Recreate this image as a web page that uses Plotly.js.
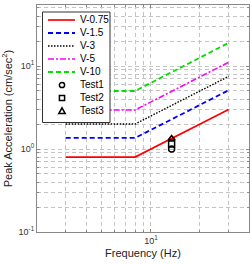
<!DOCTYPE html>
<html>
<head>
<meta charset="utf-8">
<script src="https://cdn.plot.ly/plotly-3.0.1.min.js"></script>
<style>html,body{margin:0;padding:0;background:#fff;}#chart{width:250px;height:264px;}</style>
</head>
<body>
<div id="chart"></div>
<script>
// ---- data ----
var freq = [3, 8, 30];
var v075 = [0.80, 0.80, 3.0];
var v15 = [1.36, 1.36, 5.1];
var v3 = [2.0, 2.0, 7.5];
var v5 = [2.95, 2.95, 11.1];
var v10 = [5.0, 5.0, 19.0];
var testFreq = [13.4];
var test1 = [1.0];
var test2 = [1.15];
var test3 = [1.34];
var seriesNames = ['V-0.75', 'V-1.5', 'V-3', 'V-5', 'V-10'];
var testNames = ['Test1', 'Test2', 'Test3'];
var xTickVals = [10];
var xTickText = ['10<sup>1</sup>'];
var xMinorVals = [2,3,4,5,6,7,8,9,20,30,40];
var yTickVals = [0.1, 1, 10];
var yTickText = ['10<sup>-1</sup>', '10<sup>0</sup>', '10<sup>1</sup>'];
var yMinorVals = [0.2,0.3,0.4,0.5,0.6,0.7,0.8,0.9,2,3,4,5,6,7,8,9,20,30,40,50];

// ---- styles ----
var lineColors = ['#ff0000', '#0000ff', '#000000', '#ff00ff', '#00e000'];
var lineDashes = ['solid', '5px,3px', '1.5px,1.5px', '6px,2px,2px,2px', '5px,3px'];
var lineWidths = [1.7, 1.8, 1.4, 1.6, 1.8];
var testSymbols = ['circle-open', 'square-open', 'triangle-up-open'];
var seriesY = [v075, v15, v3, v5, v10];
var testY = [test1, test2, test3];

var W = 250, H = 264;
var M = {l: 37, r: 1, t: 5, b: 32};
var pw = W - M.l - M.r, ph = H - M.t - M.b;
function px(x) { return (x - M.l) / pw; }
function py(y) { return (H - M.b - y) / ph; }

var traces = [];
for (var i = 0; i < seriesNames.length; i++) {
  traces.push({
    x: freq, y: seriesY[i], type: 'scatter', mode: 'lines', name: seriesNames[i],
    line: {color: lineColors[i], dash: lineDashes[i], width: lineWidths[i]},
    showlegend: false, hoverinfo: 'skip'
  });
}
for (var j = 0; j < testNames.length; j++) {
  traces.push({
    x: testFreq, y: testY[j], type: 'scatter', mode: 'markers', name: testNames[j],
    marker: {symbol: testSymbols[j], color: '#000', size: 6, line: {width: 1.5, color: '#000'}},
    showlegend: false, hoverinfo: 'skip'
  });
}

// ---- legend box drawn as layout decoration ----
var shapes = [], annotations = [];
var lgL = 42.5, lgR = 110, lgT = 12, lgB = 122.5;
shapes.push({type: 'rect', xref: 'paper', yref: 'paper', x0: px(lgL), x1: px(lgR), y0: py(lgB), y1: py(lgT),
  fillcolor: '#fff', line: {color: '#333', width: 1}, layer: 'above'});
var rowY0 = 20, rowStep = 13, sampleL = 48, sampleR = 75, textX = 78, markX = 62;
var allNames = seriesNames.concat(testNames);
for (var k = 0; k < allNames.length; k++) {
  var ry = rowY0 + rowStep * k;
  if (k < seriesNames.length) {
    shapes.push({type: 'line', xref: 'paper', yref: 'paper', x0: px(sampleL), x1: px(sampleR), y0: py(ry), y1: py(ry),
      line: {color: lineColors[k], dash: lineDashes[k], width: lineWidths[k]}, layer: 'above'});
  } else {
    var t = k - seriesNames.length, s = 2.6;
    if (t === 0) {
      shapes.push({type: 'circle', xref: 'paper', yref: 'paper', x0: px(markX - s), x1: px(markX + s), y0: py(ry + s), y1: py(ry - s),
        line: {color: '#000', width: 1.5}, layer: 'above'});
    } else if (t === 1) {
      shapes.push({type: 'rect', xref: 'paper', yref: 'paper', x0: px(markX - s), x1: px(markX + s), y0: py(ry + s), y1: py(ry - s),
        line: {color: '#000', width: 1.5}, layer: 'above'});
    } else {
      shapes.push({type: 'path', xref: 'paper', yref: 'paper',
        path: 'M ' + px(markX - 3.2) + ' ' + py(ry + 2.6) + ' L ' + px(markX + 3.2) + ' ' + py(ry + 2.6) + ' L ' + px(markX) + ' ' + py(ry - 3.2) + ' Z',
        line: {color: '#000', width: 1.5}, layer: 'above'});
    }
  }
  annotations.push({xref: 'paper', yref: 'paper', x: px(textX), y: py(ry), xanchor: 'left', yanchor: 'middle',
    text: allNames[k], showarrow: false, font: {family: 'Liberation Sans, Arial, sans-serif', size: 10, color: '#000'}});
}

var axisCommon = {
  type: 'log', showgrid: true, gridcolor: '#c4c4c4', griddash: '4px,3px', gridwidth: 1,
  showline: true, linecolor: '#888', linewidth: 1, mirror: 'allticks',
  ticks: 'inside', ticklen: 3, tickcolor: '#888', zeroline: false,
  tickmode: 'array', tickfont: {family: 'Liberation Sans, Arial, sans-serif', size: 9, color: '#333'}
};
var minorCommon = {ticks: 'inside', ticklen: 2, tickcolor: '#888', showgrid: true, gridcolor: '#c4c4c4', griddash: '4px,3px', gridwidth: 1, tickmode: 'array'};

var layout = {
  width: W, height: H, margin: M, paper_bgcolor: '#fff', plot_bgcolor: '#fff', showlegend: false,
  xaxis: Object.assign({}, axisCommon, {
    range: [Math.log10(2), Math.log10(40)], tickvals: xTickVals, ticktext: xTickText,
    minor: Object.assign({}, minorCommon, {tickvals: xMinorVals}),
    title: {text: 'Frequency (Hz)', font: {family: 'Liberation Sans, Arial, sans-serif', size: 11, color: '#222'}, standoff: 4}
  }),
  yaxis: Object.assign({}, axisCommon, {
    range: [-1, 1.735], tickvals: yTickVals, ticktext: yTickText,
    minor: Object.assign({}, minorCommon, {tickvals: yMinorVals}),
    title: {text: 'Peak Acceleration (cm/sec<sup>2</sup>)', font: {family: 'Liberation Sans, Arial, sans-serif', size: 11, color: '#222'}, standoff: 4}
  }),
  shapes: shapes, annotations: annotations
};

Plotly.newPlot('chart', traces, layout, {staticPlot: true, displayModeBar: false});
</script>
</body>
</html>
